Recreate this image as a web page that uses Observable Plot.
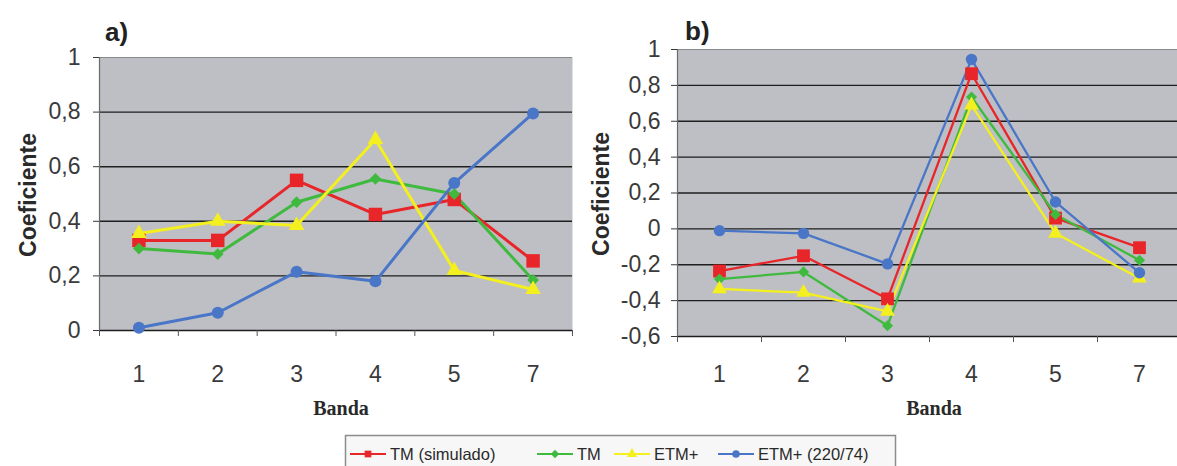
<!DOCTYPE html>
<html><head><meta charset="utf-8">
<script src="https://cdn.jsdelivr.net/npm/d3@7"></script>
<script src="https://cdn.jsdelivr.net/npm/@observablehq/plot@0.6"></script>
<style>
body{margin:0;background:#fff}
#root{position:relative;width:1177px;height:466px;overflow:hidden;font-family:"Liberation Sans",Arial,sans-serif}
.panel{position:absolute;top:0}
#overlay{position:absolute;left:0;top:0;pointer-events:none}
</style></head>
<body><div id="root"></div>
<script>
// ---- data ----
const bands = ["1", "2", "3", "4", "5", "7"];
const seriesNames = ["TM (simulado)", "TM", "ETM+", "ETM+ (220/74)"];
const seriesColors = ["#e8262a", "#3fba3f", "#f4ef1e", "#4a76c8"];
const seriesSymbols = ["square", "diamond2", "triangle", "circle"];

// panel a)
const tmSimA   = [0.33, 0.33, 0.55, 0.425, 0.48, 0.255];
const tmA      = [0.30, 0.28, 0.47, 0.555, 0.50, 0.185];
const etmA     = [0.355, 0.40, 0.385, 0.70, 0.22, 0.15];
const etm220A  = [0.01, 0.065, 0.215, 0.18, 0.54, 0.795];
// panel b)
const tmSimB   = [-0.235, -0.15, -0.39, 0.865, 0.06, -0.105];
const tmB      = [-0.28, -0.24, -0.54, 0.735, 0.08, -0.175];
const etmB     = [-0.335, -0.355, -0.46, 0.69, -0.025, -0.275];
const etm220B  = [-0.01, -0.025, -0.195, 0.945, 0.15, -0.245];

const yTicksA = [0, 0.2, 0.4, 0.6, 0.8, 1];
const yTicksB = [-0.6, -0.4, -0.2, 0, 0.2, 0.4, 0.6, 0.8, 1];

const fmt = v => (Math.abs(v) < 1e-9 ? "0" : Math.abs(v - 1) < 1e-9 ? "1" : v.toFixed(1).replace(".", ","));
const symR = {square: 7.6, diamond2: 5.3, triangle: 5.8, circle: 6};

function rowsOf(seriesValues) {
  const rows = [];
  seriesValues.forEach((vals, s) => vals.forEach((v, i) => rows.push({series: seriesNames[s], i, v})));
  return rows;
}

function panel(seriesValues, yTicks, o) {
  const rows = rowsOf(seriesValues);
  const top = yTicks[yTicks.length - 1];
  const marks = [
    Plot.frame({fill: "#bdbfc4", stroke: "none"}),
    Plot.ruleY(yTicks.filter(t => t !== top), {stroke: "#1e1e1e", strokeWidth: 1.4}),
    Plot.ruleY([top], {stroke: "#8a8a8a", strokeWidth: 1}),
    Plot.ruleX([-0.5], {stroke: "#6a6a6a", strokeWidth: 1.2}),
    Plot.axisY(yTicks, {tickSize: 6, tickPadding: o.yPad, tickFormat: fmt, fontSize: 23, color: "#3a3a3a", label: null}),
    Plot.axisX(d3.range(-0.5, 6, 1), {tickSize: 6, tickFormat: () => "", color: "#555", label: null}),
    Plot.axisX(d3.range(0, 6), {tickSize: 0, tickPadding: o.xPad, tickFormat: i => bands[i], fontSize: 23, color: "#3a3a3a", label: null})
  ];
  seriesNames.forEach((name, s) => {
    const data = rows.filter(d => d.series === name);
    marks.push(Plot.line(data, {x: "i", y: "v", stroke: seriesColors[s], strokeWidth: o.lw}));
  });
  seriesNames.forEach((name, s) => {
    const data = rows.filter(d => d.series === name);
    marks.push(Plot.dot(data, {x: "i", y: "v", symbol: seriesSymbols[s], fill: seriesColors[s], stroke: "none", r: symR[seriesSymbols[s]] * o.ms}));
  });
  const svg = Plot.plot({
    width: o.width, height: o.height,
    marginLeft: o.ml, marginRight: o.mr, marginTop: o.mt, marginBottom: o.mb,
    x: {type: "linear", domain: [-0.5, 5.5], axis: null},
    y: {domain: [yTicks[0], top], axis: null},
    style: {fontFamily: "'Liberation Sans', Arial, sans-serif", background: "transparent", overflow: "visible"},
    marks
  });
  svg.classList.add("panel");
  svg.style.left = o.left + "px";
  return svg;
}

const root = document.getElementById("root");
root.appendChild(panel([tmSimA, tmA, etmA, etm220A], yTicksA,
  {left: 0, width: 590, height: 400, ml: 99, mr: 18, mt: 57, mb: 70, yPad: 13, xPad: 35, lw: 3, ms: 1}));
root.appendChild(panel([tmSimB, tmB, etmB, etm220B], yTicksB,
  {left: 580, width: 601, height: 400, ml: 97, mr: 0, mt: 49, mb: 64, yPad: 11, xPad: 29, lw: 2.3, ms: 0.95}));

// ---- overlay texts & legend ----
const ov = d3.select(root).append("svg").attr("id", "overlay").attr("width", 1177).attr("height", 466);
const bold = "'Liberation Sans', Arial, sans-serif";
ov.append("text").attr("x", 105).attr("y", 41).attr("font-family", bold).attr("font-weight", "bold").attr("font-size", 26).attr("fill", "#222").text("a)");
ov.append("text").attr("x", 685).attr("y", 40).attr("font-family", bold).attr("font-weight", "bold").attr("font-size", 26).attr("fill", "#222").text("b)");
[[36, 195], [609, 194]].forEach(([x, y]) => {
  ov.append("text").attr("transform", `translate(${x},${y}) rotate(-90)`).attr("text-anchor", "middle")
    .attr("font-family", bold).attr("font-weight", "bold").attr("font-size", 23).attr("fill", "#2a2a2a").text("Coeficiente");
});
[[341, 415], [934, 415]].forEach(([x, y]) => {
  ov.append("text").attr("x", x).attr("y", y).attr("text-anchor", "middle")
    .attr("font-family", "'Liberation Serif', 'Times New Roman', serif").attr("font-weight", "bold").attr("font-size", 20).attr("fill", "#2a2a2a").text("Banda");
});
// legend
ov.append("rect").attr("x", 345.5).attr("y", 435.5).attr("width", 550).attr("height", 36).attr("fill", "#f7f7f7").attr("stroke", "#8c8c8c").attr("stroke-width", 1.5);
const legX = [350, 537, 614, 718];
seriesNames.forEach((name, s) => {
  const x0 = legX[s], yc = 454;
  const g = ov.append("g");
  g.append("line").attr("x1", x0).attr("x2", x0 + 36).attr("y1", yc).attr("y2", yc).attr("stroke", seriesColors[s]).attr("stroke-width", 2);
  const sym = {square: d3.symbolSquare, diamond2: d3.symbolDiamond2, triangle: d3.symbolTriangle, circle: d3.symbolCircle}[seriesSymbols[s]];
  g.append("path").attr("transform", `translate(${x0 + 18},${yc})`).attr("d", d3.symbol(sym, 45)()).attr("fill", seriesColors[s]);
  g.append("text").attr("x", x0 + 40).attr("y", yc + 6).attr("font-family", bold).attr("font-size", 16.5).attr("fill", "#2a2a2a").text(name);
});
</script>
</body></html>
